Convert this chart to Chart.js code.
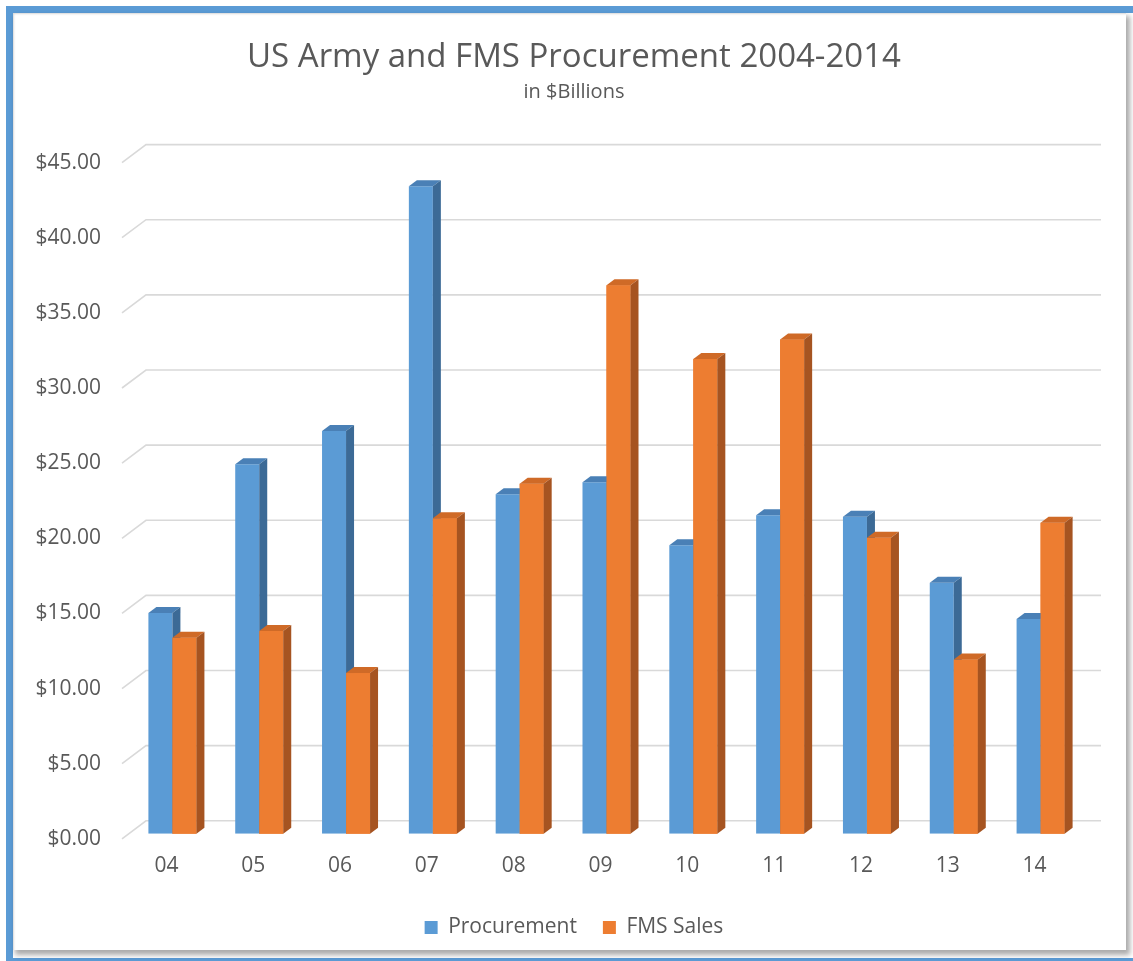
<!DOCTYPE html>
<html>
<head>
<meta charset="utf-8">
<script src="https://cdn.jsdelivr.net/npm/chart.js@4.4.1/dist/chart.umd.min.js"></script>
<style>
    html, body { margin: 0; padding: 0; background: #fff; overflow: hidden; }
    #frame {
        position: absolute; left: 6px; top: 6px;
        width: 1134px; height: 959px;
        box-sizing: border-box;
        border: 7px solid #5b9bd5;
    }
    #panel {
        position: absolute; left: 13px; top: 13px;
        width: 1113px; height: 937px;
        background: #fff;
        box-shadow: 3px 4px 5px 1px rgba(0, 0, 0, 0.33), inset 2px 2px 2px -1px #d8d8d8;
    }
    #chart { position: absolute; left: 0; top: 0; }
</style>
</head>
<body>
<div id="frame"></div>
<div id="panel"></div>
<canvas id="chart" width="1133" height="961"></canvas>
<script>
// ============================================
// Data
// ============================================
const years = ['04', '05', '06', '07', '08', '09', '10', '11', '12', '13', '14'];
const procurement = [14.7, 24.6, 26.8, 43.1, 22.6, 23.4, 19.2, 21.2, 21.1, 16.7, 14.3];
const fmsSales = [13.05, 13.5, 10.7, 21.0, 23.3, 36.5, 31.6, 32.9, 19.7, 11.6, 20.7];
const yTicks = [0, 5, 10, 15, 20, 25, 30, 35, 40, 45];

const FONT = '"Open Sans", "DejaVu Sans", sans-serif';
const TEXT = '#595959';

// depth of the back wall and of the bars (px)
const WALL = { dx: 17, dy: 13, fx: -7, fy: 5 };
const BAR = { dx: 8, dy: 6 };

function drawFaces(ctx, bar, ds, withFront) {
    const { x, y, base, width } = bar.getProps(['x', 'y', 'base', 'width'], true);
    const l = x - width / 2, r = x + width / 2;
    if (withFront) {
        ctx.fillStyle = ds.backgroundColor;
        ctx.fillRect(l, y, width, base - y);
    }
    // top face
    ctx.fillStyle = ds.topColor;
    ctx.beginPath();
    ctx.moveTo(l, y);
    ctx.lineTo(r, y);
    ctx.lineTo(r + BAR.dx, y - BAR.dy);
    ctx.lineTo(l + BAR.dx, y - BAR.dy);
    ctx.closePath();
    ctx.fill();
    // side face
    ctx.fillStyle = ds.sideColor;
    ctx.beginPath();
    ctx.moveTo(r, y);
    ctx.lineTo(r + BAR.dx, y - BAR.dy);
    ctx.lineTo(r + BAR.dx, base - BAR.dy);
    ctx.lineTo(r, base);
    ctx.closePath();
    ctx.fill();
}

/**
 * Fake 3D: back-wall gridlines + top/side faces for each bar
 */
const depthPlugin = {
    id: 'depth',
    beforeDatasetsDraw(chart) {
        const { ctx, chartArea, scales } = chart;
        ctx.save();
        ctx.strokeStyle = '#d9d9d9';
        ctx.lineWidth = 1.6;
        yTicks.forEach(v => {
            const y = scales.y.getPixelForValue(v);
            ctx.beginPath();
            ctx.moveTo(chartArea.left + WALL.fx, y + WALL.fy);
            ctx.lineTo(chartArea.left + WALL.dx, y - WALL.dy);
            ctx.lineTo(chartArea.right + WALL.dx, y - WALL.dy);
            ctx.stroke();
        });
        ctx.restore();
    },
    afterDatasetsDraw(chart) {
        const ctx = chart.ctx;
        const sets = chart.data.datasets;
        const metaA = chart.getDatasetMeta(0);
        const metaB = chart.getDatasetMeta(1);
        ctx.save();
        years.forEach((_, i) => {
            // blue first, then orange on top of blue's side face
            drawFaces(ctx, metaA.data[i], sets[0], false);
            drawFaces(ctx, metaB.data[i], sets[1], true);
        });
        ctx.restore();
    }
};

new Chart(document.getElementById('chart').getContext('2d'), {
    type: 'bar',
    data: {
        labels: years,
        datasets: [
            {
                label: 'Procurement',
                data: procurement,
                backgroundColor: '#5b9bd5',
                topColor: '#4a80b6',
                sideColor: '#3c6a96'
            },
            {
                label: 'FMS Sales',
                data: fmsSales,
                backgroundColor: '#ed7d31',
                topColor: '#cf6a27',
                sideColor: '#a65421'
            }
        ]
    },
    options: {
        responsive: false,
        animation: false,
        devicePixelRatio: 1,
        layout: { padding: { left: 35, right: 20, top: 0, bottom: 13 } },
        datasets: {
            bar: { categoryPercentage: 0.553, barPercentage: 1.0 }
        },
        scales: {
            x: {
                grid: { display: false, drawTicks: false },
                border: { display: false },
                ticks: { color: TEXT, font: { family: FONT, size: 21 }, padding: 20, labelOffset: -6 },
                afterFit: axis => { axis.height -= 8; }
            },
            y: {
                min: 0,
                max: 45,
                afterBuildTicks: axis => { axis.ticks = yTicks.map(v => ({ value: v })); },
                afterFit: axis => { axis.width = 94; },
                grid: { display: false, drawTicks: false },
                border: { display: false },
                ticks: {
                    color: TEXT,
                    font: { family: FONT, size: 21 },
                    padding: 28,
                    labelOffset: 5,
                    callback: value => '$' + Number(value).toFixed(2)
                }
            },
            // empty spacer on the right so the plot ends where the wall does
            yRight: {
                position: 'right',
                min: 0,
                max: 45,
                grid: { display: false, drawTicks: false },
                border: { display: false },
                ticks: { display: false },
                afterFit: axis => { axis.width = 29; }
            }
        },
        plugins: {
            title: {
                display: true,
                text: 'US Army and FMS Procurement 2004-2014',
                color: TEXT,
                font: { family: FONT, size: 33, weight: 'normal' },
                padding: { top: 38, bottom: 0 }
            },
            subtitle: {
                display: true,
                text: 'in $Billions',
                color: TEXT,
                font: { family: FONT, size: 20, weight: 'normal' },
                padding: { top: 3, bottom: 53 }
            },
            legend: {
                position: 'bottom',
                labels: {
                    color: TEXT,
                    font: { family: FONT, size: 21 },
                    boxWidth: 13,
                    boxHeight: 13,
                    padding: 26,
                    sort: (a, b) => a.datasetIndex - b.datasetIndex
                }
            },
            tooltip: { enabled: false }
        }
    },
    plugins: [depthPlugin]
});
</script>
</body>
</html>
